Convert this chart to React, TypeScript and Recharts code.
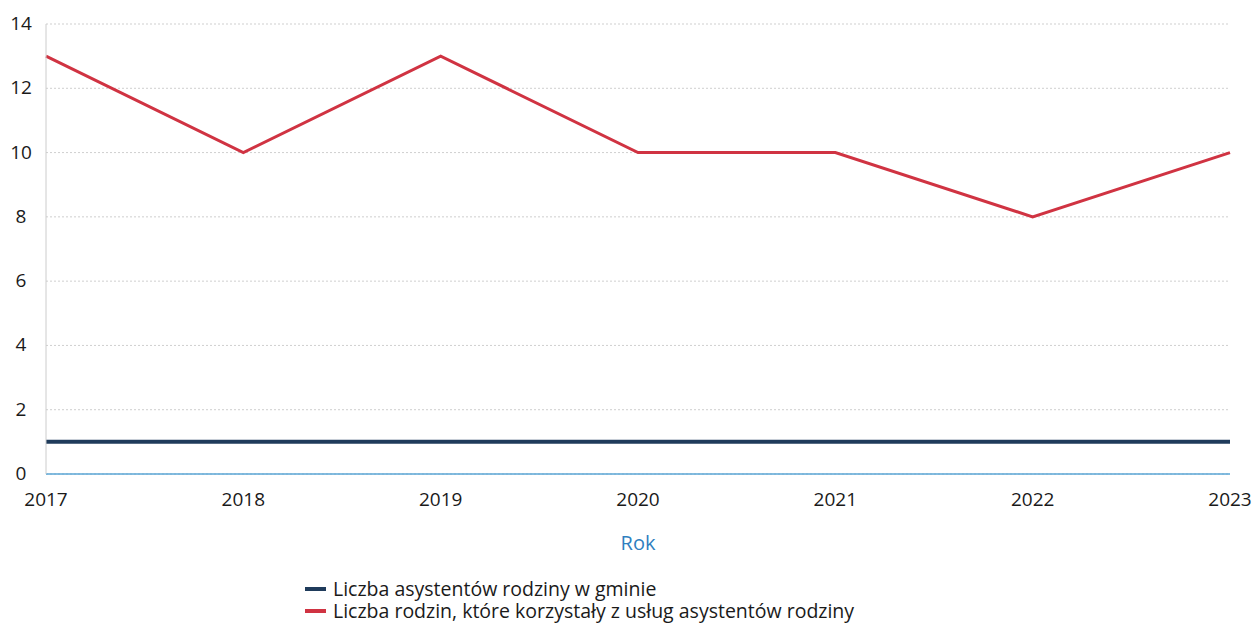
import React from "react";
import { LineChart, Line, XAxis, YAxis, CartesianGrid } from "recharts";

const years = ["2017", "2018", "2019", "2020", "2021", "2022", "2023"];
const assistants = [1, 1, 1, 1, 1, 1, 1];
const families = [13, 10, 13, 10, 10, 8, 10];
const yTicks = [0, 2, 4, 6, 8, 10, 12, 14];

const data = years.map((year, i) => ({ year, assistants: assistants[i], families: families[i] }));

const FONT = "'Open Sans', 'Noto Sans', sans-serif";

function YTick({ y, payload }: any) {
  return (
    <text x={21} y={y} dy={6} textAnchor="middle" fontSize={19} fill="#1a1a1a" fontFamily={FONT}>
      {payload.value}
    </text>
  );
}

function XTick({ x, y, payload }: any) {
  return (
    <text x={x} y={y} dy={24} textAnchor="middle" fontSize={19} fill="#1a1a1a" fontFamily={FONT}>
      {payload.value}
    </text>
  );
}

export default function App() {
  return (
    <div style={{ position: "relative", width: 1253, height: 626, background: "#fff" }}>
      <style>{`body{margin:0}`}</style>
      <LineChart width={1253} height={626} data={data} margin={{ top: 24, right: 23, left: 0, bottom: 0 }}>
        <CartesianGrid vertical={false} stroke="#cfcfcf" strokeDasharray="2 2" />
        <XAxis
          dataKey="year"
          tick={<XTick />}
          tickLine={false}
          axisLine={{ stroke: "#5aa6d6", strokeWidth: 1.5 }}
          height={152}
          interval={0}
          label={{ value: "Rok", position: "insideTop", offset: 62, fill: "#2f7fbf", fontSize: 20, fontFamily: FONT }}
        />
        <YAxis
          domain={[0, 14]}
          ticks={yTicks}
          tick={<YTick />}
          tickLine={false}
          axisLine={{ stroke: "#cccccc" }}
          width={46}
        />
        <Line dataKey="assistants" stroke="#1f3b5b" strokeWidth={4} dot={false} isAnimationActive={false} />
        <Line dataKey="families" stroke="#d03342" strokeWidth={3} dot={false} isAnimationActive={false} />
      </LineChart>
      <div style={{ position: "absolute", left: 305, top: 578, fontFamily: FONT, fontSize: 19.5, color: "#1a1a1a", lineHeight: "22px" }}>
        <div style={{ display: "flex", alignItems: "center", whiteSpace: "nowrap", height: 22 }}>
          <span style={{ display: "inline-block", width: 21, height: 4, background: "#1f3b5b", marginRight: 7 }} />
          Liczba asystentów rodziny w gminie
        </div>
        <div style={{ display: "flex", alignItems: "center", whiteSpace: "nowrap", height: 22 }}>
          <span style={{ display: "inline-block", width: 21, height: 4, background: "#d03342", marginRight: 7 }} />
          Liczba rodzin, które korzystały z usług asystentów rodziny
        </div>
      </div>
    </div>
  );
}
